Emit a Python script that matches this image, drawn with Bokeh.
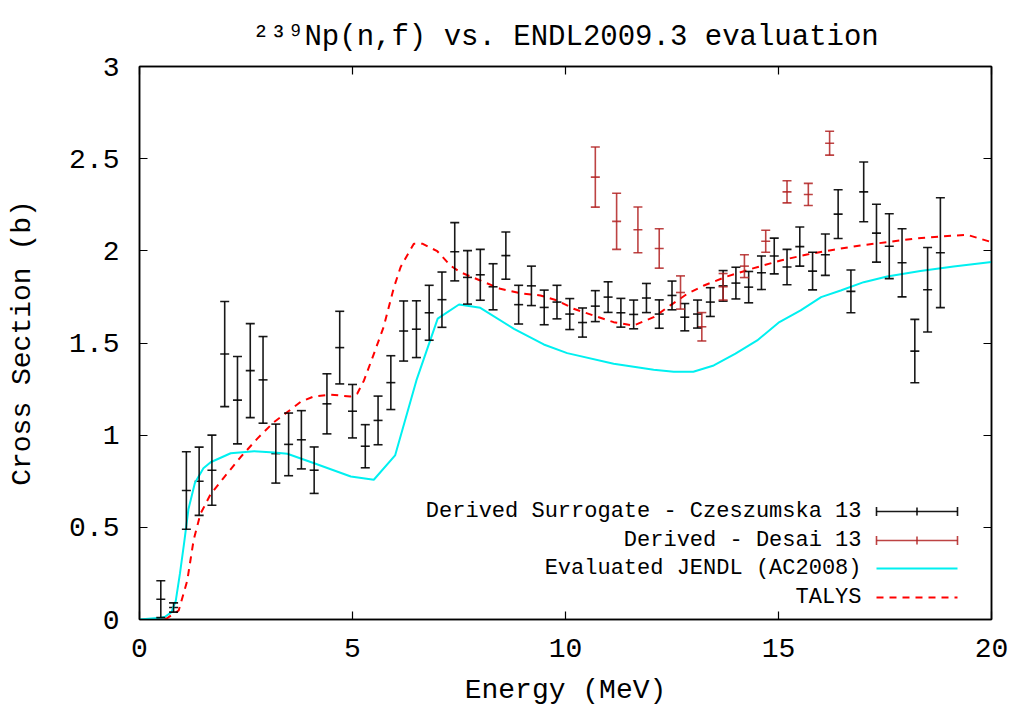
from bokeh.plotting import figure
from bokeh.models import (Range1d, FixedTicker, NumeralTickFormatter, LinearAxis, Whisker,
                          TeeHead, ColumnDataSource, Label, Arrow, CustomJSTickFormatter)
from bokeh.embed import file_html
from bokeh.resources import INLINE

# ---------------- data ----------------
title_text = "\u00b2\u00b3\u2079Np(n,f) vs. ENDL2009.3 evaluation"
x_label = "Energy (MeV)"
y_label = "Cross Section (b)"
x_ticks = [0, 5, 10, 15, 20]
y_ticks = [0, 0.5, 1, 1.5, 2, 2.5, 3]

legend_names = ["Derived Surrogate - Czeszumska 13", "Derived - Desai 13",
                "Evaluated JENDL (AC2008)", "TALYS"]

# Derived Surrogate - Czeszumska 13
cz_energy = [0.5, 0.8, 1.1, 1.4, 1.7, 2.0, 2.3, 2.6, 2.9, 3.2, 3.5, 3.8, 4.1, 4.4, 4.7,
             5.0, 5.3, 5.6, 5.9, 6.2, 6.5, 6.8, 7.1, 7.4, 7.7, 8.0, 8.3, 8.6, 8.9, 9.2,
             9.5, 9.8, 10.1, 10.4, 10.7, 11.0, 11.3, 11.6, 11.9, 12.2, 12.5, 12.8, 13.1,
             13.4, 13.7, 14.0, 14.3, 14.6, 14.9, 15.2, 15.5, 15.8, 16.1, 16.4, 16.7, 17.0,
             17.3, 17.6, 17.9, 18.2, 18.5, 18.8]
cz_sigma = [0.11, 0.065, 0.70, 0.75, 0.81, 1.44, 1.19, 1.35, 1.30, 0.90, 0.95, 0.975, 0.81,
            1.17, 1.475, 1.13, 0.94, 1.08, 1.285, 1.565, 1.575, 1.664, 1.735, 1.995, 1.856,
            1.87, 1.805, 1.974, 1.708, 1.81, 1.693, 1.722, 1.657, 1.611, 1.70, 1.749, 1.664,
            1.655, 1.744, 1.657, 1.758, 1.64, 1.657, 1.722, 1.81, 1.825, 1.803, 1.881, 1.972,
            1.912, 2.023, 1.89, 1.979, 2.199, 1.78, 2.32, 2.096, 2.025, 1.935, 1.456, 1.789, 1.99]
cz_err = [0.10, 0.025, 0.21, 0.185, 0.19, 0.285, 0.237, 0.255, 0.235, 0.16, 0.17, 0.158, 0.126,
          0.163, 0.197, 0.145, 0.117, 0.132, 0.146, 0.163, 0.154, 0.149, 0.15, 0.158, 0.145,
          0.138, 0.125, 0.128, 0.105, 0.107, 0.094, 0.091, 0.084, 0.079, 0.084, 0.083, 0.078,
          0.078, 0.079, 0.077, 0.078, 0.074, 0.076, 0.078, 0.083, 0.086, 0.085, 0.091, 0.097,
          0.096, 0.106, 0.102, 0.112, 0.132, 0.116, 0.162, 0.157, 0.176, 0.185, 0.172, 0.229, 0.298]

# Derived - Desai 13
de_energy = [10.7, 11.2, 11.7, 12.2, 12.7, 13.2, 13.7, 14.2, 14.7, 15.2, 15.7, 16.2]
de_sigma = [2.40, 2.16, 2.114, 2.013, 1.774, 1.588, 1.805, 1.917, 2.052, 2.32, 2.306, 2.584]
de_err = [0.163, 0.152, 0.124, 0.107, 0.09, 0.077, 0.072, 0.062, 0.06, 0.06, 0.06, 0.065]

# Evaluated JENDL (AC2008)
jendl_energy = [0.0, 0.5, 0.6, 0.75, 0.85, 0.95, 1.05, 1.15, 1.3, 1.5, 1.67, 2.14, 2.69, 3.16,
                3.47, 4.1, 4.96, 5.5, 6.0, 6.5, 7.0, 7.5, 8.0, 8.79, 9.49, 10.04, 11.13, 12.07,
                12.54, 13.0, 13.48, 13.99, 14.5, 15.0, 15.52, 16.0, 16.46, 17.0, 17.55, 18.33,
                19.11, 20.0]
jendl_sigma = [0.0, 0.01, 0.015, 0.04, 0.1, 0.25, 0.42, 0.6, 0.74, 0.82, 0.853, 0.902, 0.913,
               0.906, 0.899, 0.848, 0.776, 0.758, 0.89, 1.297, 1.632, 1.709, 1.691, 1.577, 1.492,
               1.445, 1.387, 1.355, 1.344, 1.344, 1.378, 1.442, 1.514, 1.61, 1.677, 1.749, 1.785,
               1.83, 1.861, 1.89, 1.915, 1.939]

# TALYS
talys_energy = [0.6, 0.92, 1.12, 1.27, 1.43, 1.67, 1.98, 2.37, 2.76, 3.15, 3.47, 3.78, 4.09,
                4.48, 4.95, 5.11, 5.27, 5.5, 5.73, 5.97, 6.13, 6.44, 6.64, 6.99, 7.3, 7.53, 8.0,
                8.47, 8.94, 9.41, 9.8, 10.19, 10.66, 11.13, 11.6, 12.07, 12.46, 12.86, 13.25,
                13.79, 14.42, 15.05, 15.67, 16.3, 16.92, 17.55, 18.18, 18.8, 19.43, 20.0]
talys_sigma = [0.0, 0.049, 0.21, 0.43, 0.573, 0.68, 0.77, 0.88, 0.98, 1.07, 1.125, 1.18, 1.21,
               1.22, 1.21, 1.225, 1.297, 1.44, 1.586, 1.80, 1.912, 2.039, 2.039, 1.998, 1.92,
               1.884, 1.839, 1.794, 1.77, 1.758, 1.731, 1.686, 1.649, 1.613, 1.595, 1.64, 1.704,
               1.767, 1.812, 1.861, 1.906, 1.948, 1.98, 2.006, 2.029, 2.047, 2.066, 2.078, 2.087,
               2.047]

# ---------------- style ----------------
FONT = "Liberation Mono"
BLACK = "#000000"
DESAI = "#b22222"
CYAN = "#00f0f0"
TALYS_RED = "#ff0000"

p = figure(width=1020, height=713, output_backend="svg", toolbar_location=None,
           x_range=Range1d(0, 20), y_range=Range1d(0, 3),
           min_border_left=139, min_border_right=29, min_border_top=66, min_border_bottom=94)
p.xgrid.visible = False
p.ygrid.visible = False
p.outline_line_color = "black"
p.outline_line_width = 1.5
p.background_fill_color = "white"
p.border_fill_color = "white"

p.title.text = title_text
p.title.align = "center"
p.title.text_font = FONT
p.title.text_font_size = "29px"
p.title.text_font_style = "normal"
p.title.text_color = "black"
p.title.standoff = 25


def style_axis(ax, ticks, show_labels):
    ax.ticker = FixedTicker(ticks=ticks)
    ax.major_tick_in = 8
    ax.major_tick_out = 0
    ax.minor_tick_line_color = None
    ax.axis_line_width = 1.5
    ax.axis_line_color = "black"
    ax.major_tick_line_color = "black"
    ax.major_tick_line_width = 1.2
    if show_labels:
        ax.major_label_text_font = FONT
        ax.major_label_text_font_size = "28px"
        ax.major_label_text_color = "black"
        ax.axis_label_text_font = FONT
        ax.axis_label_text_font_size = "28px"
        ax.axis_label_text_font_style = "normal"
        ax.axis_label_text_color = "black"
    else:
        ax.formatter = CustomJSTickFormatter(code="return ''")
        ax.major_label_text_font_size = "1px"
        ax.major_label_standoff = 0


xa = p.xaxis[0]
ya = p.yaxis[0]
style_axis(xa, x_ticks, True)
style_axis(ya, y_ticks, True)
xa.axis_label = x_label
ya.axis_label = y_label
ya.formatter = NumeralTickFormatter(format="0.[0]")
xa.major_label_standoff = 19
xa.axis_label_standoff = 15
ya.major_label_standoff = 20
ya.axis_label_standoff = 28

top_ax = LinearAxis()
right_ax = LinearAxis()
style_axis(top_ax, x_ticks, False)
style_axis(right_ax, y_ticks, False)
p.add_layout(top_ax, "above")
p.add_layout(right_ax, "right")

# ---------------- data marks ----------------
cz_src = ColumnDataSource(dict(
    x=cz_energy, y=cz_sigma,
    lo=[v - e for v, e in zip(cz_sigma, cz_err)],
    up=[v + e for v, e in zip(cz_sigma, cz_err)]))
de_src = ColumnDataSource(dict(
    x=de_energy, y=de_sigma,
    lo=[v - e for v, e in zip(de_sigma, de_err)],
    up=[v + e for v, e in zip(de_sigma, de_err)]))

for src, col, alpha in [(cz_src, BLACK, 0.9), (de_src, DESAI, 0.85)]:
    w = Whisker(source=src, base="x", lower="lo", upper="up", dimension="height",
                line_color=col, line_width=1.6, line_alpha=alpha, level="glyph",
                upper_head=TeeHead(size=9, line_color=col, line_width=1.6, line_alpha=alpha),
                lower_head=TeeHead(size=9, line_color=col, line_width=1.6, line_alpha=alpha))
    p.add_layout(w)
    p.scatter("x", "y", source=src, marker="dash", size=9, line_color=col,
              line_width=1.6, line_alpha=alpha)

p.line(jendl_energy, jendl_sigma, line_color=CYAN, line_width=2)
p.line(talys_energy, talys_sigma, line_color=TALYS_RED, line_width=2, line_dash="7 6")

# ---------------- legend (text right, sample on the right) ----------------
row_y = [108, 79, 51, 22]
text_right = 722
s0, s1 = 737, 818
for name, yy in zip(legend_names, row_y):
    p.add_layout(Label(x=text_right, y=yy, x_units="screen", y_units="screen", text=name,
                       text_font=FONT, text_font_size="22px", text_color="black",
                       text_align="right", text_baseline="middle"))

for col, yy, alpha in [(BLACK, row_y[0], 0.9), (DESAI, row_y[1], 0.85)]:
    p.add_layout(Arrow(x_start=s0, y_start=yy, x_end=s1, y_end=yy,
                       start_units="screen", end_units="screen",
                       line_color=col, line_width=1.6, line_alpha=alpha,
                       start=TeeHead(size=9, line_color=col, line_width=1.6, line_alpha=alpha),
                       end=TeeHead(size=9, line_color=col, line_width=1.6, line_alpha=alpha)))
    p.add_layout(Arrow(x_start=(s0 + s1) / 2, y_start=yy - 4, x_end=(s0 + s1) / 2, y_end=yy + 4,
                       start_units="screen", end_units="screen", end=None,
                       line_color=col, line_width=1.6, line_alpha=alpha))
p.add_layout(Arrow(x_start=s0, y_start=row_y[2], x_end=s1, y_end=row_y[2],
                   start_units="screen", end_units="screen", end=None,
                   line_color=CYAN, line_width=2))
p.add_layout(Arrow(x_start=s0, y_start=row_y[3], x_end=s1, y_end=row_y[3],
                   start_units="screen", end_units="screen", end=None,
                   line_color=TALYS_RED, line_width=2, line_dash="7 6"))

open("out.html", "w").write(file_html(p, INLINE))
